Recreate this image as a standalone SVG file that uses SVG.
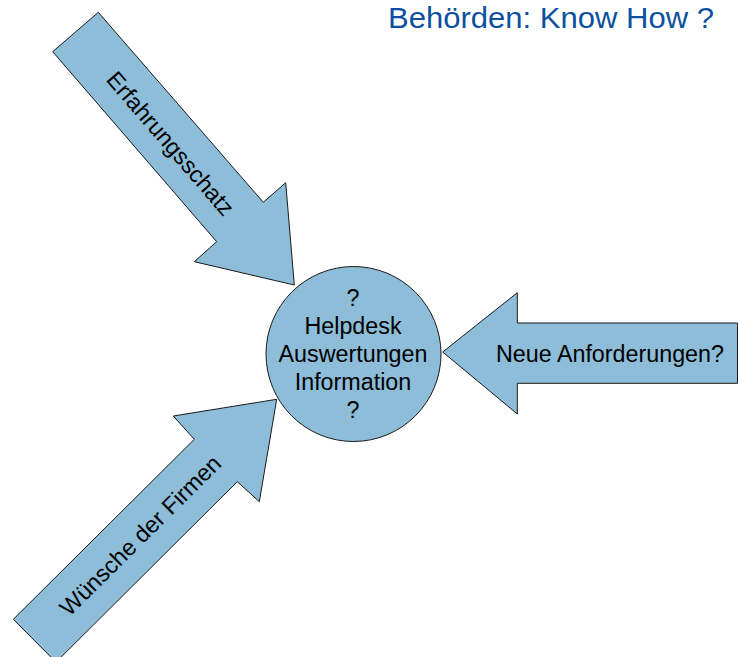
<svg xmlns="http://www.w3.org/2000/svg" width="738" height="657" viewBox="0 0 738 657">
  <style>
    .shape { fill: #8dbdd8; stroke: #1a1a1a; stroke-width: 1; stroke-linejoin: miter; }
    .lbl { font-family: "Liberation Sans", Arial, sans-serif; font-size: 23.3px; fill: #000000; }
    .title { font-family: "Liberation Sans", Arial, sans-serif; font-size: 30px; fill: #0d4fa0; }
  </style>
  <rect width="738" height="657" fill="#ffffff"/>
  <g id="title">
    <text class="title" x="388" y="28" textLength="326" lengthAdjust="spacingAndGlyphs">Behörden: Know How ?</text>
  </g>
  <g id="connectors">
    <g id="arrow-erfahrungsschatz">
      <polygon class="shape" points="98.3,12.3 263.3,202.3 285.7,182.7 294.3,285 194.3,261.7 216.7,241.7 52.7,51.7"/>
      <text class="lbl" text-anchor="middle" transform="translate(170.5,143.5) rotate(49.2)" x="0" y="8">Erfahrungsschatz</text>
    </g>
    <g id="arrow-neue">
      <polygon class="shape" points="442.7,352 517.3,292.7 517.3,323 737.5,323 737.5,383.3 517.3,383.3 517.3,414"/>
      <text class="lbl" x="496" y="362">Neue Anforderungen?</text>
    </g>
    <g id="arrow-wuensche">
      <polygon class="shape" points="13.3,619.3 194.3,439.3 173.3,416 276.7,399.3 259.3,501.7 237.3,481.7 56,662.2"/>
      <text class="lbl" text-anchor="middle" transform="translate(140.4,535.5) rotate(-44.8)" x="0" y="8">Wünsche der Firmen</text>
    </g>
  </g>
  <g id="node-center">
    <circle class="shape" cx="353.5" cy="354" r="87.5"/>
    <text class="lbl" text-anchor="middle" x="353" y="306">?</text>
    <text class="lbl" text-anchor="middle" x="353" y="334">Helpdesk</text>
    <text class="lbl" text-anchor="middle" x="353" y="362">Auswertungen</text>
    <text class="lbl" text-anchor="middle" x="353" y="390">Information</text>
    <text class="lbl" text-anchor="middle" x="353" y="418">?</text>
  </g>
</svg>
